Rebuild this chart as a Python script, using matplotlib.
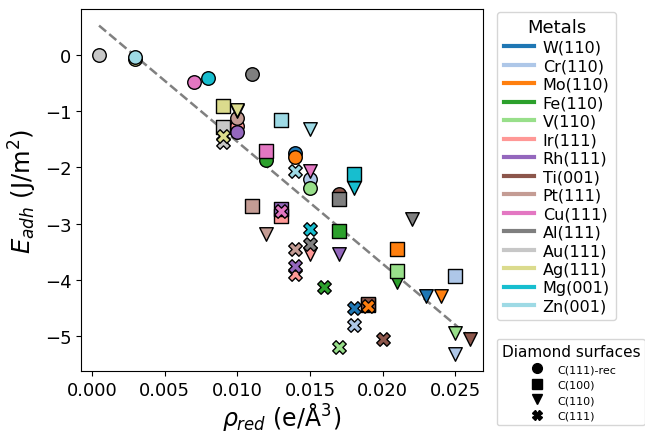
import matplotlib
matplotlib.use("Agg")
import matplotlib.pyplot as plt
from matplotlib.lines import Line2D
import numpy as np

# metals and colours (tab20 subset)
metals = ['W(110)', 'Cr(110)', 'Mo(110)', 'Fe(110)', 'V(110)', 'Ir(111)', 'Rh(111)',
          'Ti(001)', 'Pt(111)', 'Cu(111)', 'Al(111)', 'Au(111)', 'Ag(111)', 'Mg(001)', 'Zn(001)']
tab = plt.get_cmap('tab20').colors
colors = [tab[i] for i in [0, 1, 2, 4, 5, 7, 8, 10, 11, 12, 14, 15, 17, 18, 19]]

# diamond surfaces
surfaces = ['C(111)-rec', 'C(100)', 'C(110)', 'C(111)']
markers = ['o', 's', 'v', 'X']

# rho_red (e/A^3) and E_adh (J/m^2), in metal order
x_rec = [0.014, 0.015, 0.014, 0.012, 0.015, 0.010, 0.010, 0.017, 0.010, 0.007, 0.011, 0.0005, 0.003, 0.008, 0.003]
y_rec = [-1.75, -2.21, -1.82, -1.88, -2.37, -1.26, -1.38, -2.47, -1.12, -0.48, -0.35, 0.0, -0.08, -0.41, -0.04]

x_100 = [0.019, 0.025, 0.021, 0.017, 0.021, 0.013, 0.013, 0.019, 0.011, 0.012, 0.017, 0.009, 0.009, 0.018, 0.013]
y_100 = [-4.45, -3.93, -3.45, -3.13, -3.85, -2.86, -2.74, -4.43, -2.69, -1.71, -2.56, -1.29, -0.92, -2.12, -1.16]

x_110 = [0.023, 0.025, 0.024, 0.021, 0.025, 0.015, 0.017, 0.026, 0.012, 0.015, 0.022, 0.010, 0.010, 0.018, 0.015]
y_110 = [-4.29, -5.32, -4.29, -4.04, -4.95, -3.54, -3.54, -5.05, -3.18, -2.06, -2.92, -1.00, -0.99, -2.37, -1.33]

x_111 = [0.018, 0.018, 0.019, 0.016, 0.017, 0.014, 0.014, 0.020, 0.014, 0.013, 0.015, 0.009, 0.009, 0.015, 0.014]
y_111 = [-4.50, -4.80, -4.47, -4.13, -5.20, -3.90, -3.75, -5.05, -3.45, -2.78, -3.36, -1.56, -1.44, -3.10, -2.06]

# trend line
line_x = [0.0005, 0.0263]
fit_a, fit_b = 0.624, -217.0

fig = plt.figure(figsize=(6.45, 4.35), dpi=100)
ax = fig.add_axes([0.1256, 0.1448, 0.6233, 0.8322])

xl = np.array(line_x)
ax.plot(xl, fit_a + fit_b * xl, '--', color='gray', lw=1.8, zorder=1)

# draw order: circles, triangles, squares, crosses
data = {'o': (x_rec, y_rec), 's': (x_100, y_100), 'v': (x_110, y_110), 'X': (x_111, y_111)}
for m in ['o', 'v', 's', 'X']:
    xs, ys = data[m]
    for i in range(len(metals)):
        ax.scatter(xs[i], ys[i], marker=m, s=95, color=colors[i],
                   edgecolors='black', linewidths=1.0, zorder=2)

ax.set_xlim(-0.00074, 0.0269)
ax.set_ylim(-5.62, 0.81)
ax.set_xticks([0.0, 0.005, 0.010, 0.015, 0.020, 0.025])
ax.set_yticks([0, -1, -2, -3, -4, -5])
ax.tick_params(labelsize=13)
ax.set_xlabel(r'$\rho_{red}$ (e/Å$^3$)', fontsize=17, labelpad=1)
ax.set_ylabel(r'$E_{adh}$ (J/m$^2$)', fontsize=17.5)

h1 = [Line2D([0], [0], color=c, lw=3) for c in colors]
leg1 = ax.legend(h1, metals, title='Metals', loc='upper left',
                 bbox_to_anchor=(1.035, 0.992), borderaxespad=0,
                 fontsize=11.5, title_fontsize=13, handlelength=1.9,
                 handletextpad=0.55, labelspacing=0.22)
ax.add_artist(leg1)

h2 = [Line2D([0], [0], marker=m, color='black', ls='', markersize=7) for m in markers]
ax.legend(h2, surfaces, title='Diamond surfaces', loc='upper left',
          bbox_to_anchor=(1.035, 0.088), borderaxespad=0,
          fontsize=8, title_fontsize=11, labelspacing=0.5)

fig.savefig('out.png', dpi=100)
